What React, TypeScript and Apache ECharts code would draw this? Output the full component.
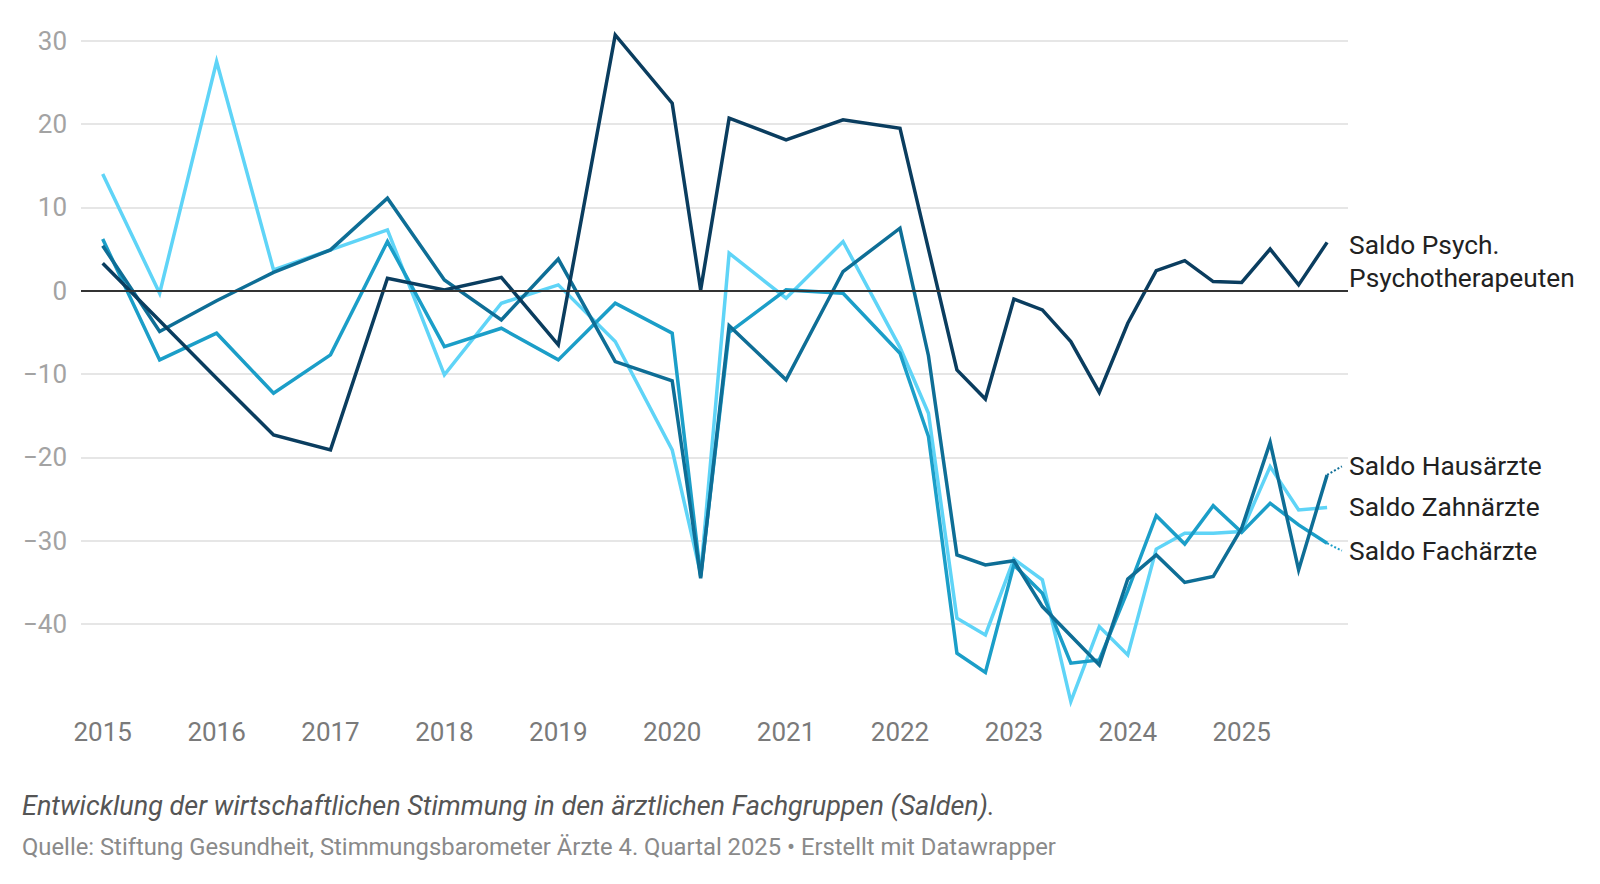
import React, { useEffect, useRef } from "react";
import * as echarts from "echarts";

// Survey dates as decimal years (half-yearly until 2022, special survey 2020 Q2, quarterly from 2022)
const periods = [
  2015, 2015.5, 2016, 2016.5, 2017, 2017.5, 2018, 2018.5, 2019, 2019.5, 2020,
  2020.25, 2020.5, 2021, 2021.5,
  2022, 2022.25, 2022.5, 2022.75, 2023, 2023.25, 2023.5, 2023.75,
  2024, 2024.25, 2024.5, 2024.75, 2025, 2025.25, 2025.5, 2025.75,
];

const yearTicks = [2015, 2016, 2017, 2018, 2019, 2020, 2021, 2022, 2023, 2024, 2025];

const psych = [
  3.3, -3.6, -10.5, -17.3, -19.1, 1.5, 0.1, 1.6, -6.5, 30.7, 22.5,
  0.1, 20.7, 18.1, 20.5,
  19.5, 5.0, -9.5, -13.0, -1.0, -2.3, -6.1, -12.2,
  -3.9, 2.4, 3.6, 1.1, 1.0, 5.0, 0.7, 5.8,
];

const hausaerzte = [
  5.4, -4.9, -1.2, 2.2, 4.9, 11.1, 1.3, -3.5, 3.8, -8.5, -10.8,
  -34.5, -4.2, -10.7, 2.3,
  7.5, -7.8, -31.7, -32.9, -32.4, -37.9, -41.4, -44.9,
  -34.6, -31.7, -35.0, -34.3, -28.5, -18.2, -33.5, -22.1,
];

const zahnaerzte = [
  14.0, -0.3, 27.5, 2.5, 4.9, 7.3, -10.1, -1.5, 0.7, -6.1, -19.1,
  -34.0, 4.5, -0.9, 5.9,
  -6.8, -14.7, -39.3, -41.3, -32.2, -34.7, -49.3, -40.3,
  -43.7, -31.0, -29.1, -29.1, -28.9, -21.1, -26.3, -26.0,
];

const fachaerzte = [
  6.2, -8.3, -5.1, -12.3, -7.7, 5.9, -6.7, -4.5, -8.3, -1.5, -5.1,
  -34.3, -5.0, 0.1, -0.3,
  -7.5, -17.5, -43.5, -45.8, -32.9, -36.3, -44.7, -44.3,
  -36.0, -27.0, -30.4, -25.8, -29.0, -25.5, -28.1, -30.3,
];

const seriesNames = [
  "Saldo Zahnärzte",
  "Saldo Fachärzte",
  "Saldo Hausärzte",
  "Saldo Psych.\nPsychotherapeuten",
];

const caption = "Entwicklung der wirtschaftlichen Stimmung in den ärztlichen Fachgruppen (Salden).";
const source = "Quelle: Stiftung Gesundheit, Stimmungsbarometer Ärzte 4. Quartal 2025 • Erstellt mit Datawrapper";

const FONT = "Roboto, 'Noto Sans', sans-serif";
const PX_PER_UNIT = 666.7 / 80;

function pairs(values: number[]) {
  return periods.map((x, i) => [x, values[i]]);
}

function leader(values: number[], dyPx: number, color: string) {
  const lastX = periods[periods.length - 1];
  const lastV = values[values.length - 1];
  return {
    silent: true,
    symbol: ["none", "none"],
    label: { show: false },
    lineStyle: { color, width: 2, type: "dotted" },
    data: [
      [
        { coord: [lastX, lastV] },
        { coord: [lastX + 0.13, lastV - dyPx / PX_PER_UNIT] },
      ],
    ],
  };
}

function makeSeries(name: string, values: number[], color: string, dy: number, extra: any = {}) {
  return {
    name,
    type: "line",
    data: pairs(values),
    showSymbol: false,
    symbol: "none",
    clip: false,
    lineStyle: { color, width: 3.5, join: "miter" },
    itemStyle: { color },
    emphasis: { disabled: true },
    endLabel: {
      show: true,
      formatter: () => name,
      color: "#222",
      fontSize: 26.3,
      fontFamily: FONT,
      lineHeight: 33,
      distance: 22,
      offset: [0, dy],
    },
    ...extra,
  };
}

export default function App() {
  const ref = useRef<HTMLDivElement>(null);

  useEffect(() => {
    if (!ref.current) return;
    const chart = echarts.init(ref.current, undefined, { renderer: "svg" });
    const option: any = {
      animation: false,
      backgroundColor: "#ffffff",
      grid: { left: 81, right: 252, top: 40.7, bottom: 176.6 },
      xAxis: {
        type: "value",
        min: 2014.8095,
        max: 2025.9335,
        axisLine: { show: false },
        axisTick: { show: false },
        splitLine: { show: false },
        axisLabel: {
          customValues: yearTicks,
          formatter: (v: number) => String(v),
          color: "#7a7a7a",
          fontSize: 26,
          fontFamily: FONT,
          margin: 12,
        },
      },
      yAxis: {
        type: "value",
        min: -50,
        max: 30,
        interval: 10,
        axisLine: { show: false },
        axisTick: { show: false },
        axisLabel: {
          showMinLabel: false,
          formatter: (v: number) => (v < 0 ? "\u2212" + Math.abs(v) : String(v)),
          color: "#a3a3a3",
          fontSize: 26,
          fontFamily: FONT,
          margin: 14,
        },
        splitLine: {
          show: true,
          showMinLine: false,
          lineStyle: { color: "#e6e6e6", width: 2 },
        },
      },
      series: [
        makeSeries(seriesNames[0], zahnaerzte, "#5fd4f7", 0, {
          markLine: {
            silent: true,
            symbol: ["none", "none"],
            label: { show: false },
            lineStyle: { color: "#333333", width: 2, type: "solid" },
            data: [{ yAxis: 0 }],
          },
        }),
        makeSeries(seriesNames[1], fachaerzte, "#1b9ec8", 7.5, {
          markLine: leader(fachaerzte, 7.5, "#1b9ec8"),
        }),
        makeSeries(seriesNames[2], hausaerzte, "#0e6e96", -8.5, {
          markLine: leader(hausaerzte, -8.5, "#0e6e96"),
        }),
        makeSeries(seriesNames[3], psych, "#0a3d5f", 19.5),
      ],
      graphic: [
        {
          type: "text",
          x: 22,
          y: 806,
          style: {
            text: caption,
            fill: "#555555",
            fontSize: 27,
            fontStyle: "italic",
            fontFamily: FONT,
            textVerticalAlign: "middle",
            verticalAlign: "middle",
          },
        },
        {
          type: "text",
          x: 22,
          y: 847,
          style: {
            text: source,
            fill: "#8a8a8a",
            fontSize: 23.8,
            fontFamily: FONT,
            textVerticalAlign: "middle",
            verticalAlign: "middle",
          },
        },
      ],
    };
    chart.setOption(option);
    return () => chart.dispose();
  }, []);

  return (
    <div
      ref={ref}
      style={{ position: "fixed", left: 0, top: 0, width: 1600, height: 884, background: "#fff" }}
    />
  );
}
